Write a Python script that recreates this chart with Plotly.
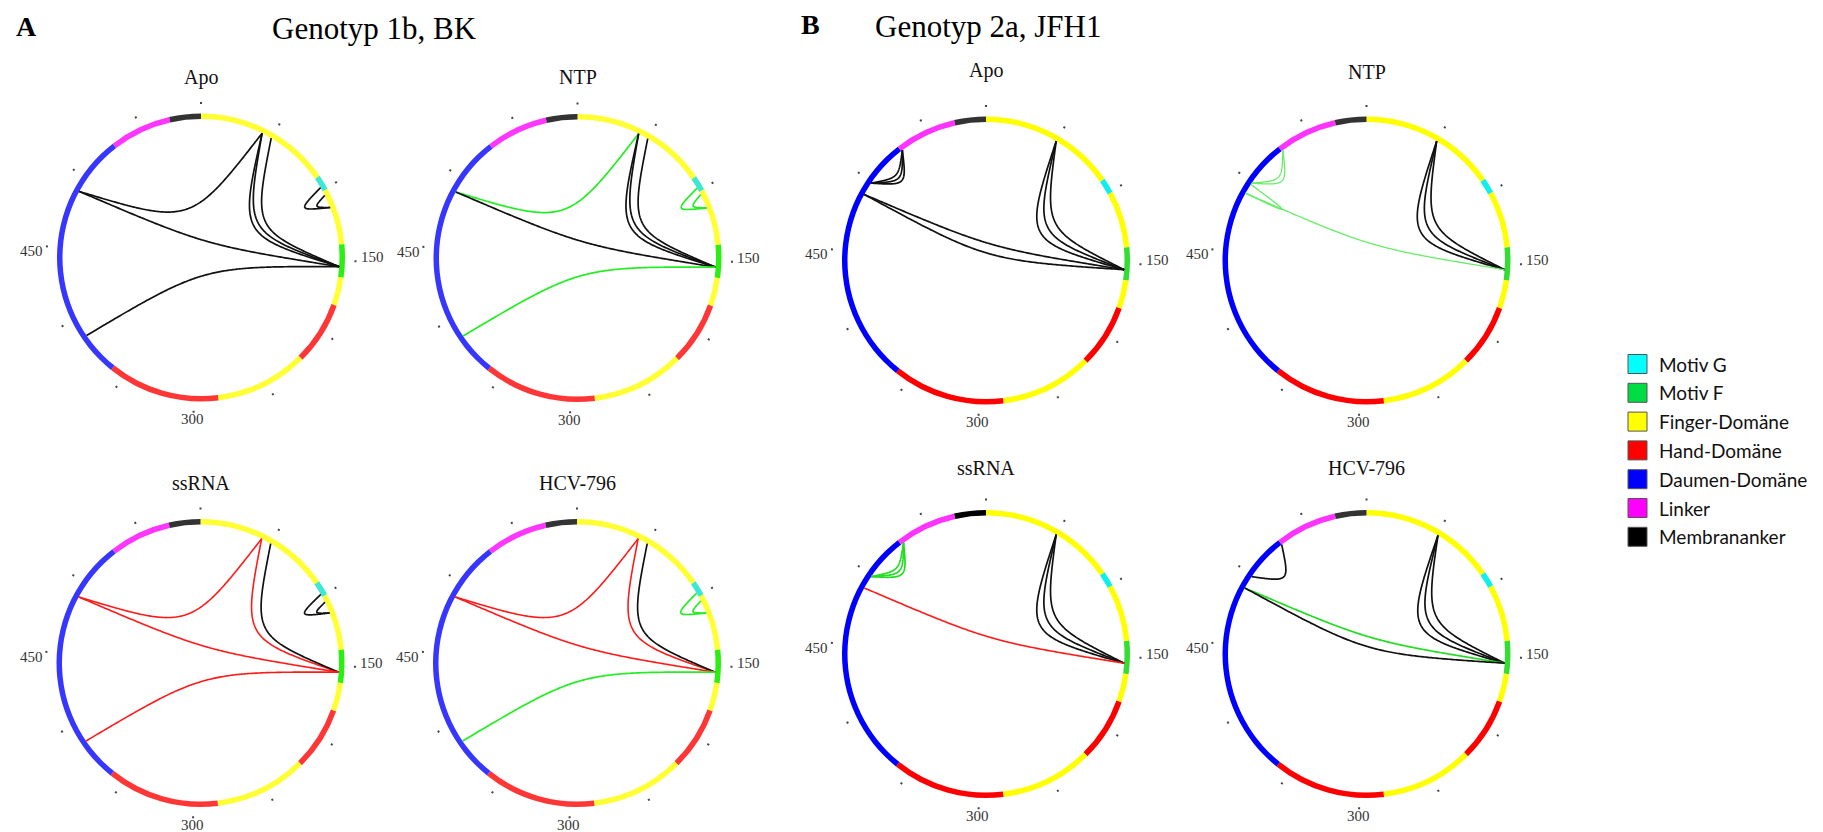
import math
import plotly.graph_objects as go

# ---------------- DATA ----------------
TOTAL = 591  # NS5B length, residue scale of the circle

# domain segments around the ring (residue positions)
SEG_START = [0, 91, 101, 139, 161, 180, 222, 284, 359, 529, 570]
SEG_END = [91, 101, 139, 161, 180, 222, 284, 359, 529, 570, 591]
SEG_DOMAIN = ["Finger", "MotivG", "Finger", "MotivF", "Finger", "Hand",
              "Finger", "Hand", "Daumen", "Linker", "Anker"]

TICK_VALUES = [0, 50, 100, 150, 200, 250, 300, 350, 400, 450, 500, 550]
LABELED_TICKS = [150, 300, 450]

LEGEND_KEYS = ["MotivG", "MotivF", "Finger", "Hand", "Daumen", "Linker", "Anker"]
LEGEND_LABELS = ["Motiv G", "Motiv F", "Finger-Domäne", "Hand-Domäne",
                 "Daumen-Domäne", "Linker", "Membrananker"]

# chords: (residue 1, residue 2, colour class)
CH_1B_APO = [(43, 490, "k"), (43, 154, "k"), (43, 154, "k"), (50, 154, "k"),
             (490, 154, "k"), (387, 154, "k"), (98, 113, "k"), (104, 113, "k")]
CH_1B_NTP = [(43, 490, "g"), (43, 154, "k"), (43, 154, "k"), (50, 154, "k"),
             (490, 154, "k"), (387, 154, "g"), (98, 113, "g"), (103, 113, "g")]
CH_1B_SSRNA = [(43, 490, "r"), (43, 154, "r"), (50, 154, "k"),
               (490, 154, "r"), (387, 154, "r"), (99, 113, "k"), (105, 113, "k")]
CH_1B_HCV = [(43, 490, "r"), (43, 154, "r"), (50, 154, "k"),
             (490, 154, "r"), (387, 154, "g"), (98, 113, "g"), (104, 113, "g")]

CH_2A_APO = [(50, 154, "k"), (50, 154, "k"), (50, 154, "k"),
             (490, 154, "k"), (490, 154, "k"),
             (530, 499, "k"), (530, 499, "k"), (530, 499, "k")]
CH_2A_NTP = [(50, 154, "k"), (50, 154, "k"), (50, 154, "k"),
             (530, 499, "lg"), (530, 499, "lg"), (491, 498, "lg"), (491, 154, "lg")]
CH_2A_SSRNA = [(50, 154, "k"), (50, 154, "k"), (50, 154, "k"),
               (531, 499, "g2"), (531, 499, "g2"), (531, 499, "g2"), (490, 154, "r")]
CH_2A_HCV = [(51, 154, "k"), (51, 154, "k"), (51, 154, "k"),
             (529, 499, "k"), (490, 154, "g2"), (490, 154, "k")]

# ---------------- STYLE ----------------
W, H = 1823, 832
OFF = 8           # default page margin of the html body
R_AX = 153.0      # radial axis extent (1 unit = 1 px)
R_IN = 138.5      # ring inner radius
R_W = 5.5         # ring thickness
R_DOT = 154.0     # tick dot radius

# curve control: fraction of the chord midpoint used as the bezier control point
BEND = {
    "1b_apo": [0.34, 0.44, 0.38, 0.50, 0.44, 0.20, 0.78, 0.89],
    "1b_ntp": [0.34, 0.44, 0.38, 0.50, 0.44, 0.20, 0.78, 0.89],
    "1b_ssrna": [0.34, 0.42, 0.50, 0.44, 0.20, 0.78, 0.89],
    "1b_hcv": [0.34, 0.42, 0.50, 0.44, 0.20, 0.78, 0.89],
    "2a_apo": [0.36, 0.46, 0.56, 0.44, 0.0, 0.80, 0.84, 0.88],
    "2a_ntp": [0.36, 0.46, 0.56, 0.80, 0.85, 0.62, 0.44],
    "2a_ssrna": [0.36, 0.46, 0.56, 0.80, 0.84, 0.88, 0.44],
    "2a_hcv": [0.36, 0.46, 0.56, 0.77, 0.44, 0.0],
}

CHORD_COLORS = {"k": "#111111", "g": "#22EE22", "r": "#FF1A1A",
                "lg": "#66EE66", "g2": "#22DD22"}
CHORD_WIDTH = {"k": 1.7, "g": 1.7, "r": 1.6, "lg": 1.3, "g2": 1.7}

PAL_1B = {"Finger": "#FFFF33", "MotivG": "#3CE8D4", "MotivF": "#2BEE11",
          "Hand": "#FF3636", "Daumen": "#3636FF", "Linker": "#FF36FF",
          "Anker": "#333333"}
PAL_2A = {"Finger": "#FFFF00", "MotivG": "#11EEEE", "MotivF": "#33DD33",
          "Hand": "#FF0000", "Daumen": "#0000FF", "Linker": "#FF33FF",
          "Anker": "#333333"}
PAL_2A_SS = dict(PAL_2A, Anker="#000000")

LEG_COLORS = {"MotivG": "#00FFFF", "MotivF": "#00DD44", "Finger": "#FFFF00",
              "Hand": "#FF0000", "Daumen": "#0000FF", "Linker": "#FF00FF",
              "Anker": "#000000"}

PANELS = [
    dict(key="1b_apo", title="Apo", chords=CH_1B_APO, pal=PAL_1B, c=(201, 257.5)),
    dict(key="1b_ntp", title="NTP", chords=CH_1B_NTP, pal=PAL_1B, c=(577.5, 258)),
    dict(key="1b_ssrna", title="ssRNA", chords=CH_1B_SSRNA, pal=PAL_1B, c=(200.5, 663)),
    dict(key="1b_hcv", title="HCV-796", chords=CH_1B_HCV, pal=PAL_1B, c=(577, 663)),
    dict(key="2a_apo", title="Apo", chords=CH_2A_APO, pal=PAL_2A, c=(986, 260.5)),
    dict(key="2a_ntp", title="NTP", chords=CH_2A_NTP, pal=PAL_2A, c=(1366.5, 260.5)),
    dict(key="2a_ssrna", title="ssRNA", chords=CH_2A_SSRNA, pal=PAL_2A_SS, c=(986, 654)),
    dict(key="2a_hcv", title="HCV-796", chords=CH_2A_HCV, pal=PAL_2A, c=(1366.5, 654)),
]
TITLE_DY = [-180, -181, -180, -180, -190, -189, -186, -186]
# tick label placement relative to its dot: (dx, dy, xanchor)
LABEL_PLACE = {150: (4, -4, "left"), 300: (-1, 8, "center"), 450: (-2, 5, "right")}

SERIF = "Liberation Serif, Times New Roman, serif"


def px(x):
    return (x - OFF) / W


def py(y):
    return 1 - (y - OFF) / H


def deg(p):
    return p * 360.0 / TOTAL


def xy(p, r):
    t = math.radians(deg(p))
    return r * math.sin(t), r * math.cos(t)


def chord_polar(p1, p2, c, n=160):
    ax, ay = xy(p1, R_IN)
    bx, by = xy(p2, R_IN)
    qx, qy = c * (ax + bx) / 2, c * (ay + by) / 2
    rr, tt = [], []
    for i in range(n + 1):
        t = i / n
        u = 1 - t
        w1 = 3 * u * u * t + 3 * u * t * t
        x = u**3 * ax + w1 * qx + t**3 * bx
        y = u**3 * ay + w1 * qy + t**3 * by
        rr.append(math.hypot(x, y))
        tt.append(math.degrees(math.atan2(x, y)) % 360)
    return rr, tt


fig = go.Figure()
layout_polars = {}
annotations = []

for i, pnl in enumerate(PANELS):
    sub = "polar" if i == 0 else f"polar{i + 1}"
    cx, cy = pnl["c"]
    fig.add_trace(go.Barpolar(
        theta=[deg((s + e) / 2) for s, e in zip(SEG_START, SEG_END)],
        width=[deg(e - s) for s, e in zip(SEG_START, SEG_END)],
        base=[R_IN] * len(SEG_START),
        r=[R_W] * len(SEG_START),
        marker=dict(color=[pnl["pal"][d] for d in SEG_DOMAIN], line=dict(width=0)),
        subplot=sub, showlegend=False, hoverinfo="skip"))
    for (a, b, col), k in zip(pnl["chords"], BEND[pnl["key"]]):
        rr, tt = chord_polar(a, b, k)
        fig.add_trace(go.Scatterpolar(
            r=rr, theta=tt, mode="lines",
            line=dict(color=CHORD_COLORS[col], width=CHORD_WIDTH[col]),
            subplot=sub, showlegend=False, hoverinfo="skip"))
    layout_polars[sub] = dict(
        domain=dict(x=[px(cx - R_AX), px(cx + R_AX)],
                    y=[py(cy + R_AX), py(cy - R_AX)]),
        bgcolor="rgba(0,0,0,0)",
        radialaxis=dict(visible=False, range=[0, R_AX]),
        angularaxis=dict(rotation=90, direction="clockwise", thetaunit="degrees",
                         showline=False, showgrid=False, ticks="outside",
                         ticklen=2, tickwidth=2, tickcolor="#444",
                         tickmode="array", tickvals=[deg(v) for v in TICK_VALUES],
                         ticktext=[""] * len(TICK_VALUES)),
    )
    # tick labels next to their dots
    for v in LABELED_TICKS:
        dx, dy = xy(v, R_DOT)
        ox, oy, anc = LABEL_PLACE[v]
        annotations.append(dict(
            x=px(cx + dx + ox), y=py(cy - dy + oy), xref="paper", yref="paper",
            text=str(v), showarrow=False, xanchor=anc, yanchor="middle",
            font=dict(family=SERIF, size=15, color="#333")))
    annotations.append(dict(
        x=px(cx), y=py(cy + TITLE_DY[i]), xref="paper", yref="paper",
        text=pnl["title"], showarrow=False, xanchor="center", yanchor="middle",
        font=dict(family=SERIF, size=20, color="#111")))

for txt, x, y, bold, size in [("A", 26, 26, True, 28),
                              ("Genotyp 1b, BK", 374, 29, False, 31),
                              ("B", 810, 24, True, 28),
                              ("Genotyp 2a, JFH1", 988, 27, False, 31)]:
    annotations.append(dict(
        x=px(x), y=py(y), xref="paper", yref="paper", showarrow=False,
        text=f"<b>{txt}</b>" if bold else txt, xanchor="center", yanchor="middle",
        font=dict(family=SERIF, size=size, color="#000")))

shapes = []
LEG_X, LEG_Y0, LEG_DY, LEG_S = 1628, 364, 28.8, 19
for j, (key, lab) in enumerate(zip(LEGEND_KEYS, LEGEND_LABELS)):
    yc = LEG_Y0 + j * LEG_DY
    shapes.append(dict(type="rect", xref="paper", yref="paper",
                       x0=px(LEG_X), x1=px(LEG_X + LEG_S),
                       y0=py(yc + LEG_S / 2), y1=py(yc - LEG_S / 2),
                       fillcolor=LEG_COLORS[key], line=dict(color="#555", width=1)))
    annotations.append(dict(
        x=px(LEG_X + 29), y=py(yc), xref="paper", yref="paper",
        text=lab, showarrow=False, xanchor="left", yanchor="middle",
        font=dict(family="Lato, Carlito, sans-serif", size=19, color="#111")))

fig.update_layout(
    width=W, height=H, margin=dict(l=0, r=0, t=0, b=0),
    paper_bgcolor="white", plot_bgcolor="white",
    annotations=annotations, shapes=shapes, showlegend=False,
    **layout_polars)

fig.write_html("out.html")
